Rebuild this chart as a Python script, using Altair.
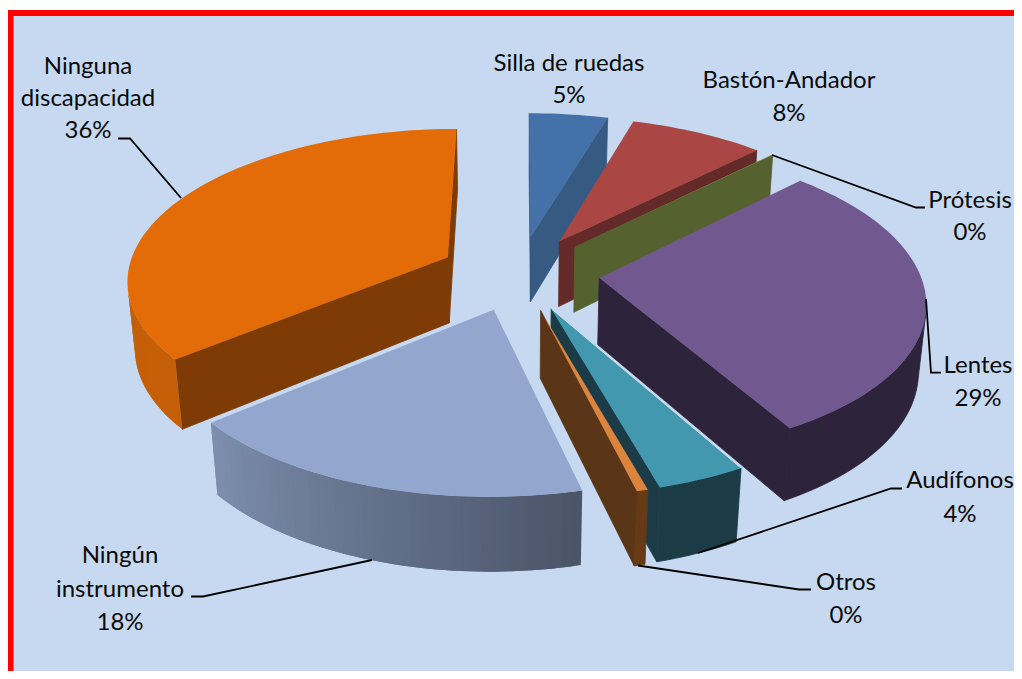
import math
import altair as alt

# ---- data (percent shares, clockwise from 12 o'clock)
names = ["Silla de ruedas", "Bastón-Andador", "Prótesis", "Lentes", "Audífonos",
         "Otros", "Ningún instrumento", "Ninguna discapacidad"]
shares = [4.6, 7.9, 0.05, 29.3, 3.8, 0.48, 17.8, 36.07]
top_colors = ["#4472A8", "#AA4644", "#89A54E", "#71588F", "#4198AF", "#DB843D", "#93A6CD", "#E36C09"]
cut_colors = ["#365A82", "#632A29", "#556230", "#2D233A", "#1B3C47", "#5A3518", "#4A5468", "#7F3B05"]
rim_from = [(54, 90, 130), (99, 42, 41), (85, 98, 48), (45, 35, 58), (27, 60, 71), (101, 58, 20), (74, 84, 104), (198, 96, 8)]
rim_to = [(54, 90, 130), (99, 42, 41), (85, 98, 48), (45, 35, 58), (27, 60, 71), (101, 58, 20), (125, 143, 175), (184, 88, 8)]
draw_order = [0, 1, 2, 7, 3, 4, 5, 6]

label_lines = [
    ("Ninguna", 88, 74), ("discapacidad", 88, 106), ("36%", 88, 138),
    ("Silla de ruedas", 569, 71), ("5%", 569, 103),
    ("Bastón-Andador", 789, 88), ("8%", 789, 121),
    ("Prótesis", 970, 208), ("0%", 970, 240),
    ("Lentes", 978, 373), ("29%", 978, 406),
    ("Audífonos", 960, 488), ("4%", 960, 522),
    ("Otros", 846, 590), ("0%", 846, 623),
    ("Ningún", 120, 563), ("instrumento", 120, 597), ("18%", 120, 630),
]
leaders = [
    [(118, 138.5), (130, 138.5), (181, 198)],
    [(925, 207.5), (916, 207.5), (772, 155)],
    [(926, 299), (931, 372.7), (941, 372.7)],
    [(902, 488.5), (891, 488.5), (698, 553)],
    [(811, 589.5), (799, 589.5), (638, 565.5)],
    [(191, 596.5), (203, 596.5), (372, 560)],
]

# ---- perspective of the 3-D pie
CX, CY, R, S, K, H, M, EXPLODE = 519.46, 272.8, 320.6, 150.0, 0.1386, 67.67, 0.0192, 0.25
OX, OY = 8, 8  # page margin


def project(x, v, z):
    w = 1 + K * v + M * z
    return [CX + R * x / w - OX, CY + (-S * v + H * z) / w - OY]


def area(poly):
    return sum(poly[i][0] * poly[(i + 1) % len(poly)][1] - poly[(i + 1) % len(poly)][0] * poly[i][1]
               for i in range(len(poly)))


def feature(poly, color, sw=0):
    ring = [list(p) for p in poly] + [list(poly[0])]
    return {"type": "Feature", "properties": {"fill": color, "sw": sw},
            "geometry": {"type": "Polygon", "coordinates": [ring]}}


def rect(x0, y0, x1, y1, color):
    return feature([(x0 - OX, y0 - OY), (x1 - OX, y0 - OY), (x1 - OX, y1 - OY), (x0 - OX, y1 - OY)], color)


def hexc(c):
    return "#%02x%02x%02x" % tuple(int(round(a)) for a in c)


total = sum(shares)
edges = [0.0]
for s in shares:
    edges.append(edges[-1] + s / total * 2 * math.pi)

features = [
    rect(8, 10, 1030, 690, "#FF0000"),
    rect(13.5, 16, 1030, 690, "#C6D9F0"),
]
highlight = []

for i in draw_order:
    a0, a1 = edges[i], edges[i + 1]
    mid = (a0 + a1) / 2
    ox, ov = EXPLODE * math.sin(mid), EXPLODE * math.cos(mid)
    n = max(2, int((a1 - a0) / math.radians(1.5)))
    angs = [a0 + (a1 - a0) * j / n for j in range(n + 1)]
    rim = [(ox + math.sin(a), ov + math.cos(a)) for a in angs]
    top = [project(x, v, 0) for x, v in rim]
    bot = [project(x, v, 1) for x, v in rim]
    apex_t, apex_b = project(ox, ov, 0), project(ox, ov, 1)
    # cut faces
    start = [apex_t, top[0], bot[0], apex_b]
    end = [apex_t, top[-1], bot[-1], apex_b]
    if area(start) < 0:
        features.append(feature(start, cut_colors[i], 0.8))
    if area(end) > 0:
        features.append(feature(end, cut_colors[i], 0.8))
    # curved wall: visible steps only, each one overlapping the next so no seam shows
    vis = [j for j in range(n) if area([top[j], top[j + 1], bot[j + 1], bot[j]]) < 0]
    if vis:
        if rim_from[i] == rim_to[i]:
            idx = list(range(vis[0], vis[-1] + 2))
            features.append(feature([top[j] for j in idx] + [bot[j] for j in reversed(idx)],
                                    hexc(rim_from[i]), 0.8))
        else:
            for j in vis:
                e = min(j + 2, vis[-1] + 1)
                f = (j + 0.5) / n
                c = [rim_from[i][k] + (rim_to[i][k] - rim_from[i][k]) * f for k in range(3)]
                idx = list(range(j, e + 1))
                features.append(feature([top[t] for t in idx] + [bot[t] for t in reversed(idx)], hexc(c)))
    # top face
    features.append(feature([apex_t] + top, top_colors[i]))
    if names[i] == "Audífonos":
        highlight = [apex_t, top[0]]

shapes = (
    alt.Chart(alt.Data(values=features))
    .mark_geoshape()
    .encode(color=alt.Color("properties.fill:N", scale=None),
            stroke=alt.Stroke("properties.fill:N", scale=None),
            strokeWidth=alt.StrokeWidth("properties.sw:Q", scale=None))
    .project(type="identity", scale=1, translate=[0, 0])
)

edge_rows = [{"o": o, "x": p[0], "y": p[1]} for o, p in enumerate(highlight)]
edge = (
    alt.Chart(alt.Data(values=edge_rows))
    .mark_line(color="#D3E3F1", strokeWidth=1)
    .encode(x=alt.X("x:Q", scale=None, axis=None), y=alt.Y("y:Q", scale=None, axis=None), order="o:Q")
)

line_rows = []
for g, pts in enumerate(leaders):
    for o, (x, y) in enumerate(pts):
        line_rows.append({"g": g, "o": o, "x": x - OX, "y": y - OY})
lines = (
    alt.Chart(alt.Data(values=line_rows))
    .mark_line(color="#000000", strokeWidth=1.8)
    .encode(x=alt.X("x:Q", scale=None, axis=None), y=alt.Y("y:Q", scale=None, axis=None),
            detail="g:N", order="o:Q")
)

text_rows = [{"t": t, "x": x - OX, "y": y - OY} for t, x, y in label_lines]
texts = (
    alt.Chart(alt.Data(values=text_rows))
    .mark_text(font="Lato", fontSize=24, align="center", baseline="alphabetic", color="#0A0A0A")
    .encode(x=alt.X("x:Q", scale=None, axis=None), y=alt.Y("y:Q", scale=None, axis=None), text="t:N")
)

chart = (
    alt.layer(shapes, edge, lines, texts)
    .properties(width=1006, height=663, padding=0, background="#FFFFFF",
                autosize=alt.AutoSizeParams(type="none"))
    .configure_view(stroke=None)
)
chart.save("out.html", embed_options={"renderer": "svg", "actions": False})
